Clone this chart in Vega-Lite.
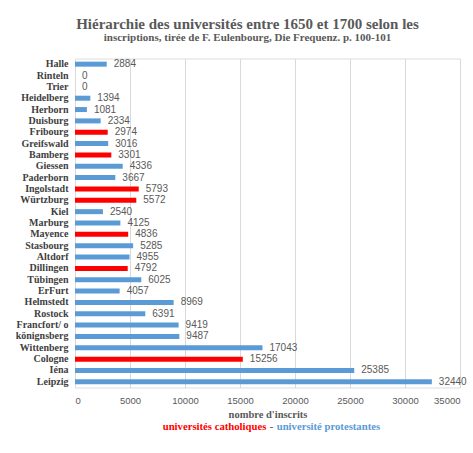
{
  "$schema": "https://vega.github.io/schema/vega-lite/v6.json",
  "autosize": {"type": "none"},
  "width": 385,
  "height": 329,
  "padding": {"left": 75, "top": 58.5, "right": 13, "bottom": 65.5},
  "background": "white",
  "title": {
    "text": "Hiérarchie des universités entre 1650 et 1700 selon les",
    "subtitle": "inscriptions, tirée de F. Eulenbourg, Die Frequenz. p. 100-101",
    "font": "Liberation Serif",
    "fontSize": 15,
    "fontWeight": "bold",
    "color": "#595959",
    "subtitleFont": "Liberation Serif",
    "subtitleFontSize": 11,
    "subtitleFontWeight": "bold",
    "subtitleColor": "#595959",
    "subtitlePadding": 0,
    "anchor": "middle",
    "dx": -20,
    "offset": 16
  },
  "data": {
    "values": [
      {"u": "Halle", "n": 2884, "type": "université protestantes"},
      {"u": "Rinteln", "n": 0, "type": "université protestantes"},
      {"u": "Trier", "n": 0, "type": "universités catholiques"},
      {"u": "Heidelberg", "n": 1394, "type": "université protestantes"},
      {"u": "Herborn", "n": 1081, "type": "université protestantes"},
      {"u": "Duisburg", "n": 2334, "type": "université protestantes"},
      {"u": "Fribourg", "n": 2974, "type": "universités catholiques"},
      {"u": "Greifswald", "n": 3016, "type": "université protestantes"},
      {"u": "Bamberg", "n": 3301, "type": "universités catholiques"},
      {"u": "Giessen", "n": 4336, "type": "université protestantes"},
      {"u": "Paderborn", "n": 3667, "type": "université protestantes"},
      {"u": "Ingolstadt", "n": 5793, "type": "universités catholiques"},
      {"u": "Würtzburg", "n": 5572, "type": "universités catholiques"},
      {"u": "Kiel", "n": 2540, "type": "université protestantes"},
      {"u": "Marburg", "n": 4125, "type": "université protestantes"},
      {"u": "Mayence", "n": 4836, "type": "universités catholiques"},
      {"u": "Stasbourg", "n": 5285, "type": "université protestantes"},
      {"u": "Altdorf", "n": 4955, "type": "université protestantes"},
      {"u": "Dillingen", "n": 4792, "type": "universités catholiques"},
      {"u": "Tübingen", "n": 6025, "type": "université protestantes"},
      {"u": "ErFurt", "n": 4057, "type": "université protestantes"},
      {"u": "Helmstedt", "n": 8969, "type": "université protestantes"},
      {"u": "Rostock", "n": 6391, "type": "université protestantes"},
      {"u": "Francfort/ o", "n": 9419, "type": "université protestantes"},
      {"u": "könignsberg", "n": 9487, "type": "université protestantes"},
      {"u": "Wittenberg", "n": 17043, "type": "université protestantes"},
      {"u": "Cologne", "n": 15256, "type": "universités catholiques"},
      {"u": "Iéna", "n": 25385, "type": "université protestantes"},
      {"u": "Leipzig", "n": 32440, "type": "université protestantes"}
    ]
  },
  "encoding": {
    "y": {
      "field": "u",
      "type": "nominal",
      "sort": null,
      "title": null,
      "scale": {"paddingInner": 0, "paddingOuter": 0},
      "axis": {
        "domain": false,
        "ticks": false,
        "labelPadding": 7,
        "labelFont": "Liberation Serif",
        "labelFontWeight": "bold",
        "labelFontSize": 10,
        "labelColor": "#404040"
      }
    },
    "x": {
      "field": "n",
      "type": "quantitative",
      "scale": {"domain": [0, 35000], "nice": false},
      "title": "nombre d'inscrits",
      "axis": {
        "values": [0, 5000, 10000, 15000, 20000, 25000, 30000, 35000],
        "format": "d",
        "domain": false,
        "ticks": false,
        "grid": true,
        "gridColor": "#d9d9d9",
        "gridWidth": 1,
        "labelPadding": 8,
        "labelFont": "Liberation Sans",
        "labelFontSize": 9.5,
        "labelColor": "#595959",
        "titleFont": "Liberation Serif",
        "titleFontWeight": "bold",
        "titleFontSize": 10.5,
        "titleColor": "#595959",
        "titlePadding": 4
      }
    }
  },
  "layer": [
    {
      "mark": {"type": "bar", "size": 5},
      "encoding": {
        "color": {
          "field": "type",
          "type": "nominal",
          "scale": {
            "domain": ["universités catholiques", "-", "université protestantes"],
            "range": ["#ff0000", "#595959", "#5b9bd5"]
          },
          "legend": {
            "title": null,
            "orient": "none",
            "legendX": 85,
            "legendY": 363,
            "direction": "horizontal",
            "symbolSize": 0,
            "symbolOpacity": 0,
            "symbolStrokeWidth": 0,
            "labelOffset": -8,
            "columnPadding": 0,
            "padding": 0,
            "labelFont": "Liberation Serif",
            "labelFontWeight": "bold",
            "labelFontSize": 10.7,
            "encode": {
              "labels": {"update": {"fill": {"scale": "color", "field": "value"}}}
            }
          }
        }
      }
    },
    {
      "mark": {
        "type": "text",
        "align": "left",
        "baseline": "middle",
        "dx": 7,
        "font": "Liberation Sans",
        "fontSize": 10,
        "color": "#595959"
      },
      "encoding": {"text": {"field": "n", "type": "quantitative", "format": "d"}}
    }
  ]
}
